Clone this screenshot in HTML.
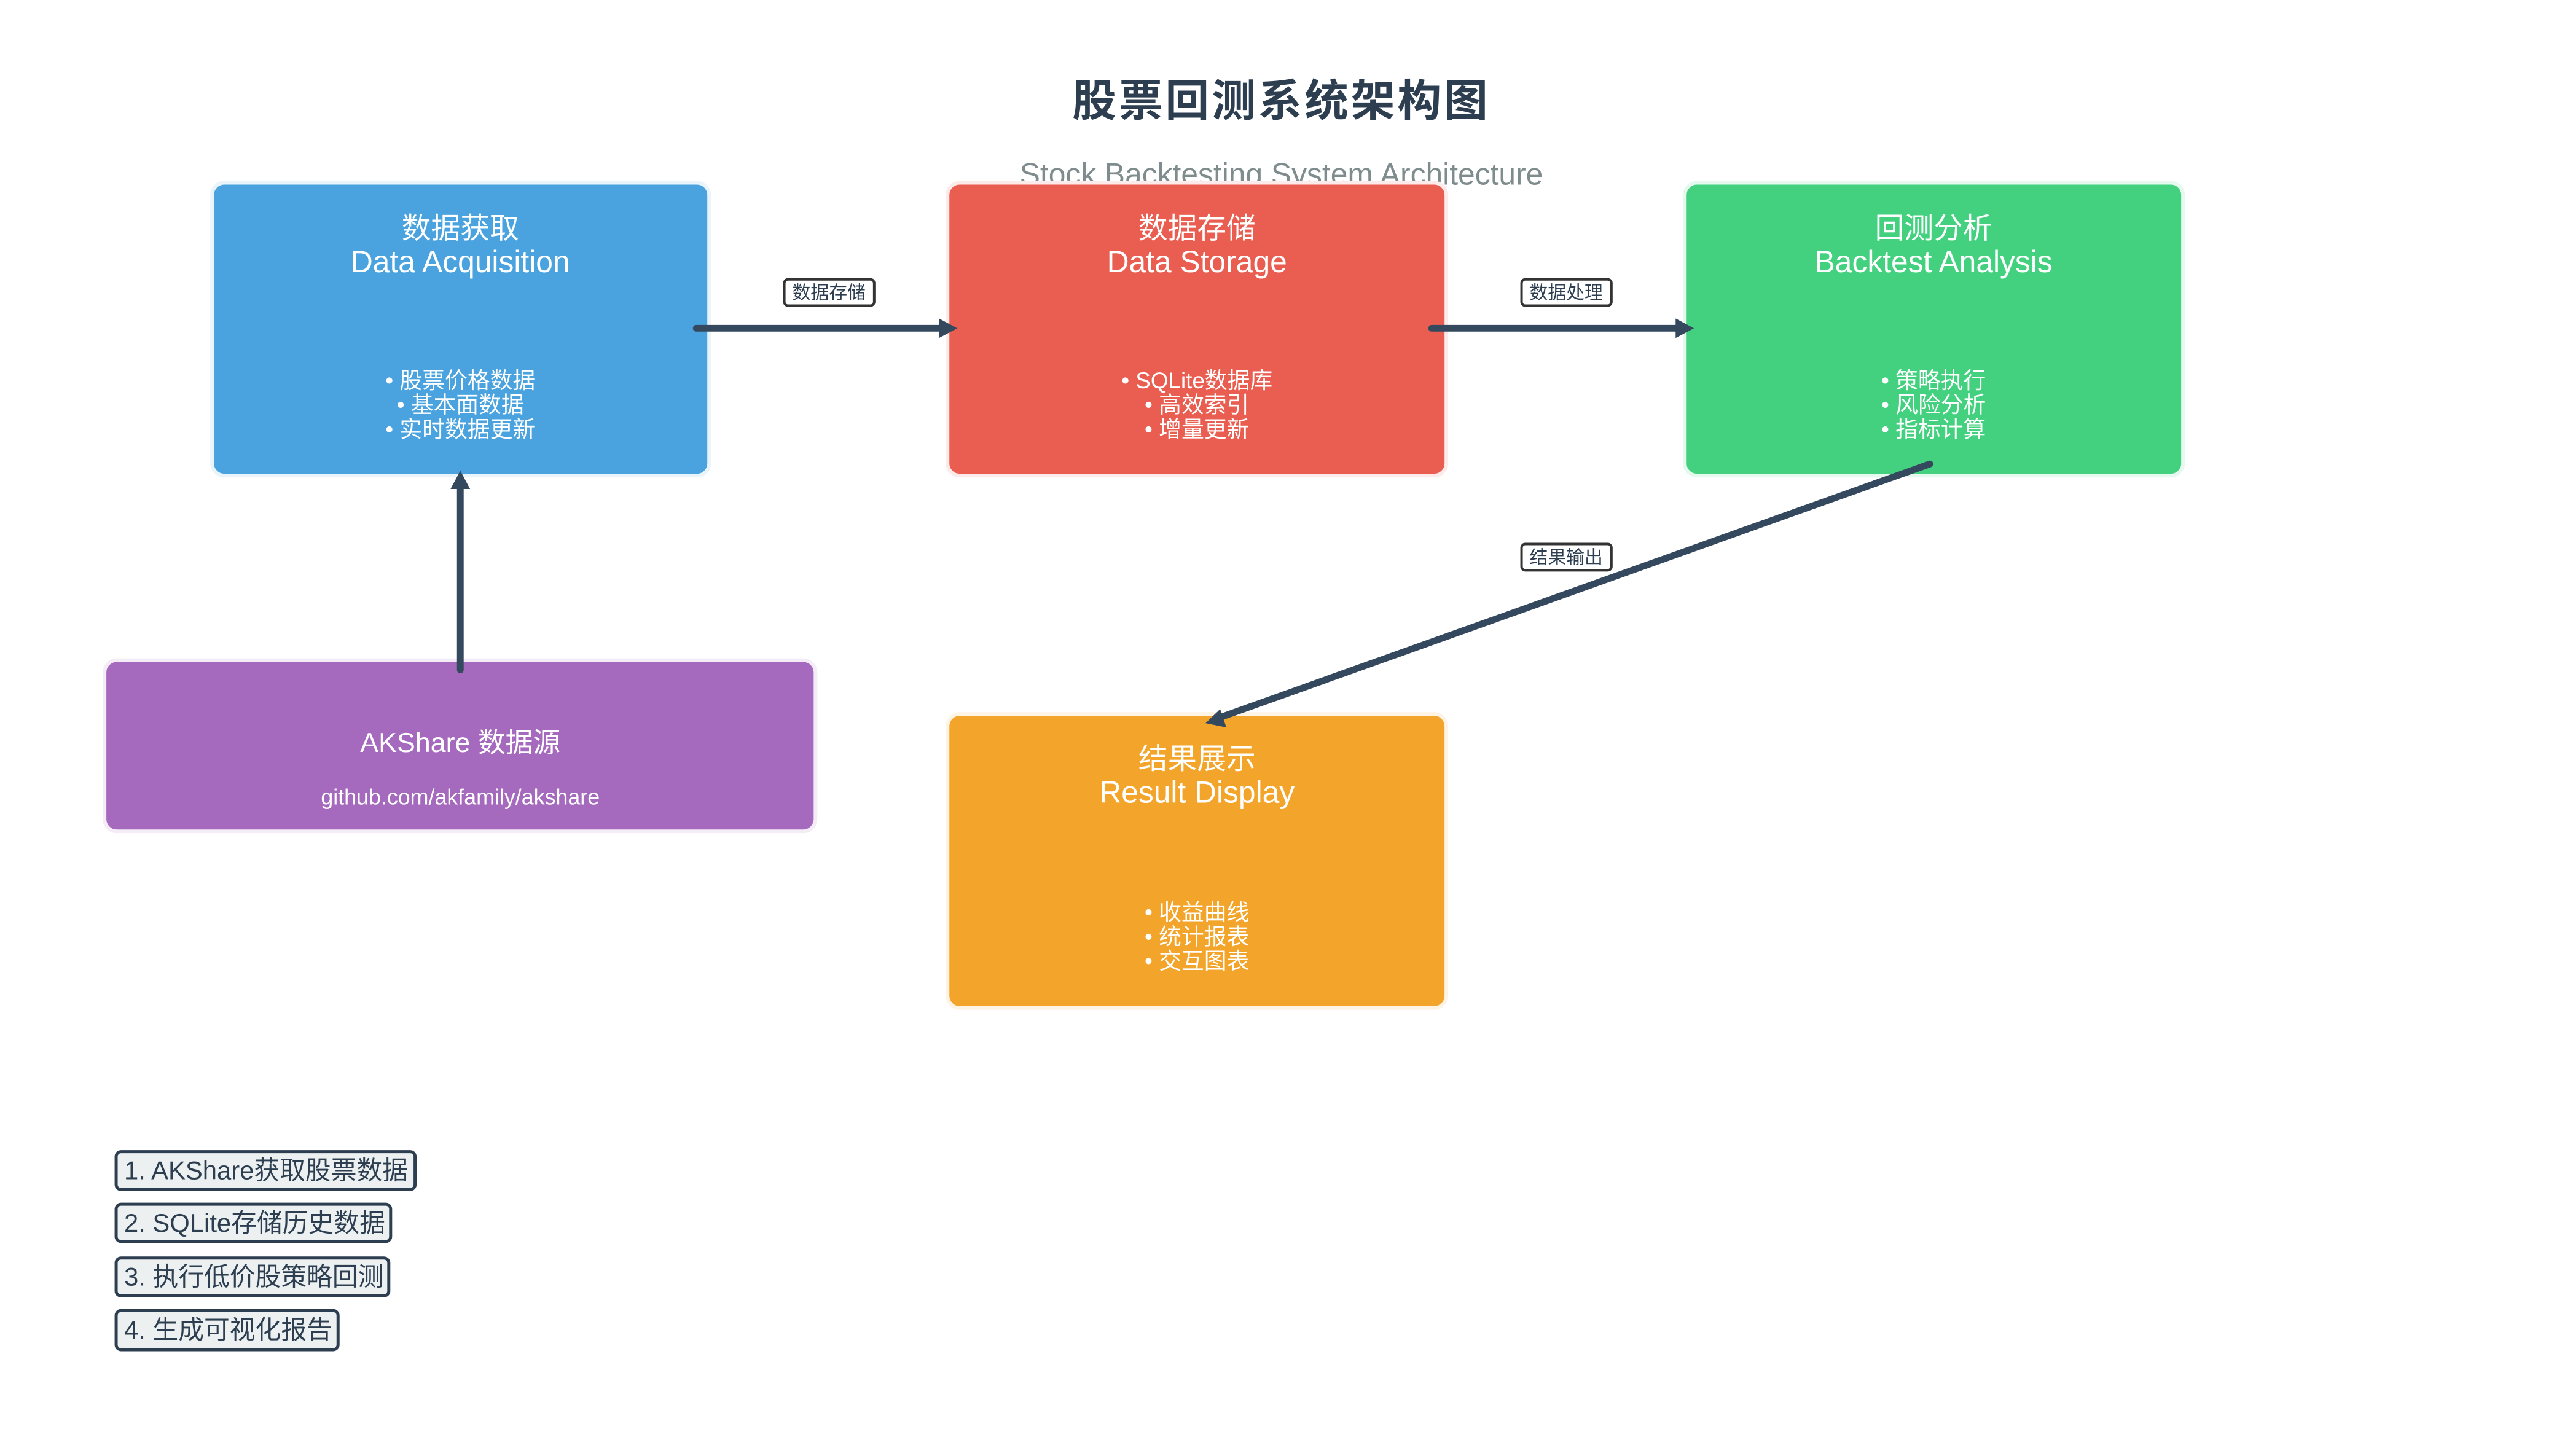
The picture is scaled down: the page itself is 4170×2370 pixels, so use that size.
<!DOCTYPE html>
<html><head><meta charset="utf-8"><style>
html,body{margin:0;padding:0;background:#fff;}
svg{display:block;}
text{font-family:"Liberation Sans","Noto Sans CJK SC",sans-serif;}
</style></head><body>
<svg width="4170" height="2370" viewBox="0 0 4170 2370" xmlns="http://www.w3.org/2000/svg">
<rect width="4170" height="2370" fill="#fff"/>
<g transform="scale(0.995)">
<text x="2096" y="190" font-size="72" font-weight="bold" fill="#2c3e50" text-anchor="middle" letter-spacing="4">股票回测系统架构图</text>
<text x="2096" y="302" font-size="50" fill="#7f8c8d" text-anchor="middle">Stock Backtesting System Architecture</text>

<g stroke-width="6">
<rect x="347" y="299" width="813" height="479" rx="20" fill="#4aa3df" stroke="#eaf4fb"/>
<rect x="1550" y="299" width="816" height="479" rx="20" fill="#e95e50" stroke="#fcebea"/>
<rect x="2756" y="299" width="815" height="479" rx="20" fill="#43d17f" stroke="#e6f9ee"/>
<rect x="171" y="1080" width="1163" height="280" rx="20" fill="#a569bd" stroke="#f4ecf7"/>
<rect x="1550" y="1168" width="816" height="481" rx="20" fill="#f3a42a" stroke="#fef4e6"/>
</g>

<g fill="#fff" text-anchor="middle">
<text x="753" y="390" font-size="48">数据获取</text>
<text x="753" y="445" font-size="50">Data Acquisition</text>
<text x="753" y="635" font-size="37">• 股票价格数据</text>
<text x="753" y="675" font-size="37">• 基本面数据</text>
<text x="753" y="715" font-size="37">• 实时数据更新</text>

<text x="1958" y="390" font-size="48">数据存储</text>
<text x="1958" y="445" font-size="50">Data Storage</text>
<text x="1958" y="635" font-size="37">• SQLite数据库</text>
<text x="1958" y="675" font-size="37">• 高效索引</text>
<text x="1958" y="715" font-size="37">• 增量更新</text>

<text x="3163" y="390" font-size="48">回测分析</text>
<text x="3163" y="445" font-size="50">Backtest Analysis</text>
<text x="3163" y="635" font-size="37">• 策略执行</text>
<text x="3163" y="675" font-size="37">• 风险分析</text>
<text x="3163" y="715" font-size="37">• 指标计算</text>

<text x="753" y="1230" font-size="45">AKShare 数据源</text>
<text x="753" y="1316" font-size="36">github.com/akfamily/akshare</text>

<text x="1958" y="1258" font-size="48">结果展示</text>
<text x="1958" y="1313" font-size="50">Result Display</text>
<text x="1958" y="1505" font-size="37">• 收益曲线</text>
<text x="1958" y="1545" font-size="37">• 统计报表</text>
<text x="1958" y="1585" font-size="37">• 交互图表</text>
</g>

<g stroke="#34495e" stroke-width="11" stroke-linecap="round" fill="#34495e">
<line x1="1139" y1="537" x2="1540" y2="537"/>
<line x1="2342" y1="537" x2="2745" y2="537"/>
<line x1="3157" y1="759" x2="1995" y2="1174"/>
<line x1="753" y1="1096" x2="753" y2="790"/>
</g>
<g fill="#34495e">
<polygon points="1566,537 1536,521 1536,553"/>
<polygon points="2771,537 2741,521 2741,553"/>
<polygon points="1972,1183 1996,1160 2006,1190"/>
<polygon points="753,770 737,800 769,800"/>
</g>

<g stroke="#333" stroke-width="4" fill="#fff">
<rect x="1283" y="457" width="147" height="43" rx="6"/>
<rect x="2489" y="457" width="147" height="43" rx="6"/>
<rect x="2489" y="890" width="147" height="43" rx="6"/>
</g>
<g fill="#2c3e50" font-size="30" text-anchor="middle">
<text x="1356" y="489">数据存储</text>
<text x="2562" y="489">数据处理</text>
<text x="2562" y="922">结果输出</text>
</g>

<g stroke="#2c3e50" stroke-width="5" fill="#ecf0f1">
<rect x="190" y="1884" width="489" height="62" rx="8"/>
<rect x="190" y="1970" width="449" height="61" rx="8"/>
<rect x="190" y="2058" width="446" height="62" rx="8"/>
<rect x="190" y="2144" width="363" height="64" rx="8"/>
</g>
<g fill="#2c3e50" font-size="42">
<text x="203" y="1929">1. AKShare获取股票数据</text>
<text x="203" y="2015">2. SQLite存储历史数据</text>
<text x="203" y="2103">3. 执行低价股策略回测</text>
<text x="203" y="2190">4. 生成可视化报告</text>
</g>
</g>
</svg>
</body></html>
